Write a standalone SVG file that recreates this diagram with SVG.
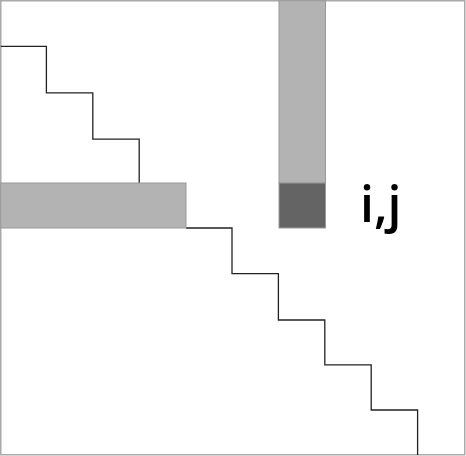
<svg xmlns="http://www.w3.org/2000/svg" width="466" height="456" viewBox="0 0 466 456">
<style>
.frame{fill:#fff;stroke:#aaa;stroke-width:1.5}
.stair{fill:none;stroke:#222;stroke-width:1.3}
.light{fill:#b3b3b3;stroke:#999;stroke-width:1}
.dark{fill:#646464;stroke:#999;stroke-width:1}
.lbl{font-family:"Open Sans","Noto Sans",sans-serif;font-weight:600;font-size:50px;fill:#000}
</style>
<rect class="frame" x="0.75" y="0.75" width="464" height="454"/>
<g id="connectors">
<path class="stair" d="M0.75,46.4 H46.4 V92.8 H92.8 V139.2 H139.2 V183 M186,228 H232 V273.6 H278.4 V320 H324.8 V364.8 H371.2 V410 H417.6 V455"/>
</g>
<g id="row-bar">
<rect class="light" x="0.75" y="183" width="185.25" height="45"/>
</g>
<g id="col-bar">
<rect class="light" x="279" y="0.75" width="46.5" height="182.25"/>
<rect class="dark" x="279" y="183" width="46.5" height="45"/>
</g>
<g id="label">
<text class="lbl" x="360" y="222">i,j</text>
</g>
</svg>
